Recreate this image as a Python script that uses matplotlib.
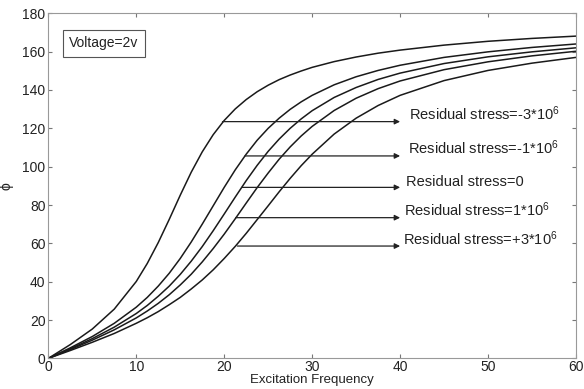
import matplotlib
matplotlib.use('Agg')
import matplotlib.pyplot as plt

plt.rcParams['font.family'] = ['Liberation Sans', 'DejaVu Sans']
plt.rcParams['mathtext.default'] = 'regular'

# excitation frequency samples
freq = [0, 2.5, 5, 7.5, 10, 11.25, 12.5, 13.75, 15, 16.25, 17.5, 18.75, 20, 21.25, 22.5,
        23.75, 25, 26.25, 27.5, 28.75, 30, 32.5, 35, 37.5, 40, 45, 50, 55, 60]

# phase curves, one per residual stress level
phi_m3 = [0, 7.2, 15.3, 25.7, 40.1, 49.5, 60.4, 72.5, 85.1, 97.1, 107.7, 116.7, 124.1, 130.1, 135.0,
          139.1, 142.5, 145.4, 147.8, 149.9, 151.8, 154.8, 157.2, 159.2, 160.8, 163.4, 165.4, 166.9, 168.1]
phi_m1 = [0, 5.5, 11.4, 18.3, 26.7, 31.8, 37.7, 44.4, 52.1, 60.7, 70.0, 79.6, 89.2, 98.3, 106.5,
          113.8, 120.0, 125.3, 129.9, 133.8, 137.2, 142.7, 146.9, 150.2, 152.9, 157.0, 159.9, 162.2, 164.0]
phi_0 = [0, 5.0, 10.3, 16.3, 23.4, 27.6, 32.4, 37.7, 43.8, 50.7, 58.3, 66.6, 75.3, 84.1, 92.7,
         100.7, 108.0, 114.4, 120.0, 124.9, 129.2, 136.1, 141.3, 145.5, 148.8, 153.8, 157.3, 159.9, 162.0]
phi_p1 = [0, 4.6, 9.5, 14.9, 21.1, 24.7, 28.7, 33.2, 38.3, 43.9, 50.3, 57.3, 64.8, 72.8, 81.0,
          89.1, 96.7, 103.9, 110.3, 116.0, 121.0, 129.3, 135.7, 140.7, 144.7, 150.6, 154.7, 157.8, 160.2]
phi_p3 = [0, 4.1, 8.4, 13.0, 18.3, 21.2, 24.4, 28.0, 31.8, 36.2, 40.9, 46.2, 52.1, 58.4, 65.2,
          72.4, 79.6, 86.9, 93.9, 100.5, 106.5, 117.0, 125.3, 131.9, 137.2, 144.9, 150.2, 154.0, 157.0]

# arrow annotations: label, start frequency, level
labels = ['Residual stress=-3*10$^6$', 'Residual stress=-1*10$^6$', 'Residual stress=0',
          'Residual stress=1*10$^6$', 'Residual stress=+3*10$^6$']
arrow_start = [19.8, 22.35, 22.0, 21.3, 21.5]
arrow_level = [123.5, 105.6, 89.2, 73.4, 58.6]
text_x = [41.05, 40.85, 40.65, 40.5, 40.35]

fig = plt.figure(figsize=(5.84, 3.89), dpi=100)
ax = fig.add_axes([0.0827, 0.0787, 0.9036, 0.8871])

for phi in [phi_m3, phi_m1, phi_0, phi_p1, phi_p3]:
    ax.plot(freq, phi, color='#1a1a1a', lw=1.1)

for lab, xs, lev, tx in zip(labels, arrow_start, arrow_level, text_x):
    ax.annotate('', xy=(40, lev), xytext=(xs, lev),
                arrowprops=dict(arrowstyle='-|>', color='#222222', lw=0.9,
                                mutation_scale=8, shrinkA=0, shrinkB=0))
    ax.text(tx, lev + 0.8, lab, fontsize=10.5, ha='left', va='baseline', color='#222222')

ax.text(2.4, 164.3, 'Voltage=2v', fontsize=10, ha='left', va='center', color='#222222',
        bbox=dict(boxstyle='square,pad=0.45', fc='white', ec='#555555', lw=0.8))

ax.set_xlim(0, 60)
ax.set_ylim(0, 180)
ax.set_xticks([0, 10, 20, 30, 40, 50, 60])
ax.set_yticks(range(0, 181, 20))
ax.tick_params(direction='in', top=True, right=True, labelsize=10, length=3,
               color='#777777', labelcolor='#222222', pad=2)
ax.tick_params(axis='x', pad=1)
for s in ax.spines.values():
    s.set_color('#999999')
    s.set_linewidth(0.8)

ax.set_xlabel('Excitation Frequency', fontsize=9.5, color='#222222')
ax.xaxis.set_label_coords(0.5, -0.045)
ax.set_ylabel('ϕ', fontsize=10, labelpad=6, color='#222222')

fig.savefig('out.png', dpi=100)
